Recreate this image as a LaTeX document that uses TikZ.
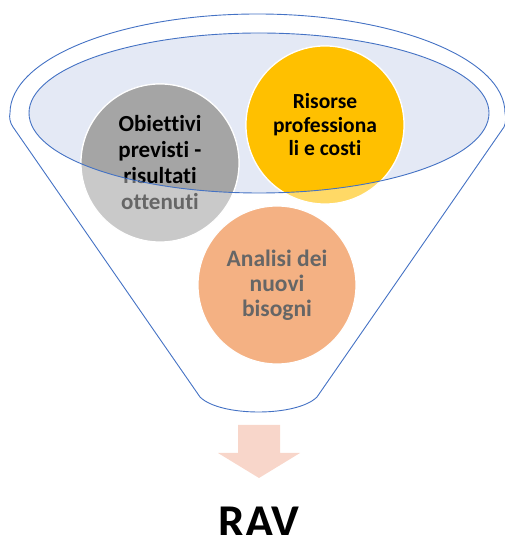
\documentclass[tikz,border=0pt]{standalone}
\usepackage{fontspec}
\setmainfont{Carlito}[Ligatures=NoCommon]
\usepackage{tikz}
\usetikzlibrary{positioning}
\usepackage{xcolor}
\definecolor{fnblue}{RGB}{68,114,196}
\definecolor{fnfill}{RGB}{228,233,245}
\definecolor{fngrey}{RGB}{165,165,165}
\definecolor{fngold}{RGB}{255,192,0}
\definecolor{fnorange}{RGB}{237,125,49}
\definecolor{fnpink}{RGB}{248,214,202}
\tikzstyle{funnel} = [draw=fnblue, line width=0.9pt]
\tikzstyle{bubble} = [circle, minimum size=158pt, inner sep=0pt, draw=white, line width=1.2pt, text centered, align=center]
\tikzstyle{faded} = [fill opacity=0.6, text opacity=1, text=black!60]
\tikzstyle{greybubble} = [bubble, fill=fngrey, font=\bfseries\fontsize{23}{26}\selectfont]
\tikzstyle{goldbubble} = [bubble, fill=fngold, font=\bfseries\fontsize{21.5}{23.5}\selectfont]
\tikzstyle{orangebubble} = [bubble, fill=fnorange, font=\bfseries\fontsize{23.5}{25}\selectfont]

\begin{document}
\begin{tikzpicture}[x=1pt, y=1pt]
\useasboundingbox (0,0) rectangle (504,535);

% Funnel outline
\draw[funnel] (13,408) -- (200,138) .. controls (220,118) and (297,118) .. (317,138)
  -- (504,408) .. controls (506,412) and (506,418) .. (505,422)
  arc[start angle=0, end angle=180, x radius=247.5pt, y radius=99pt]
  .. controls (9,418) and (10,412) .. (13,408);

% Mouth of the funnel
\fill[fnfill] (259,422) ellipse [x radius=230pt, y radius=80pt];

% Topics, faded outside the mouth
\node (obiettivi) [greybubble, faded] at (160,372) {Obiettivi\\previsti -\\risultati\\ottenuti};
\node (risorse) [goldbubble, faded] at (325,410) {Risorse\\professiona\\li e costi};
\node (analisi) [orangebubble, faded] at (277,250) {Analisi dei\\nuovi\\bisogni};

% Topics, full colour inside the mouth
\begin{scope}
\clip (259,422) ellipse [x radius=230pt, y radius=80pt];
\node (obiettivi-in) [greybubble] at (obiettivi) {Obiettivi\\previsti -\\risultati\\ottenuti};
\node (risorse-in) [goldbubble] at (risorse) {Risorse\\professiona\\li e costi};
\end{scope}
\draw[funnel] (259,422) ellipse [x radius=230pt, y radius=80pt];

% Output arrow
\fill[fnpink] (238,110) -- (280,110) -- (280,82) -- (300,82) -- (259,57) -- (218,82) -- (238,82) -- cycle;

% Result
\node (rav) [anchor=base, inner sep=0pt, font=\bfseries\fontsize{47}{50}\selectfont] at (259,-2) {RAV};
\end{tikzpicture}
\end{document}
